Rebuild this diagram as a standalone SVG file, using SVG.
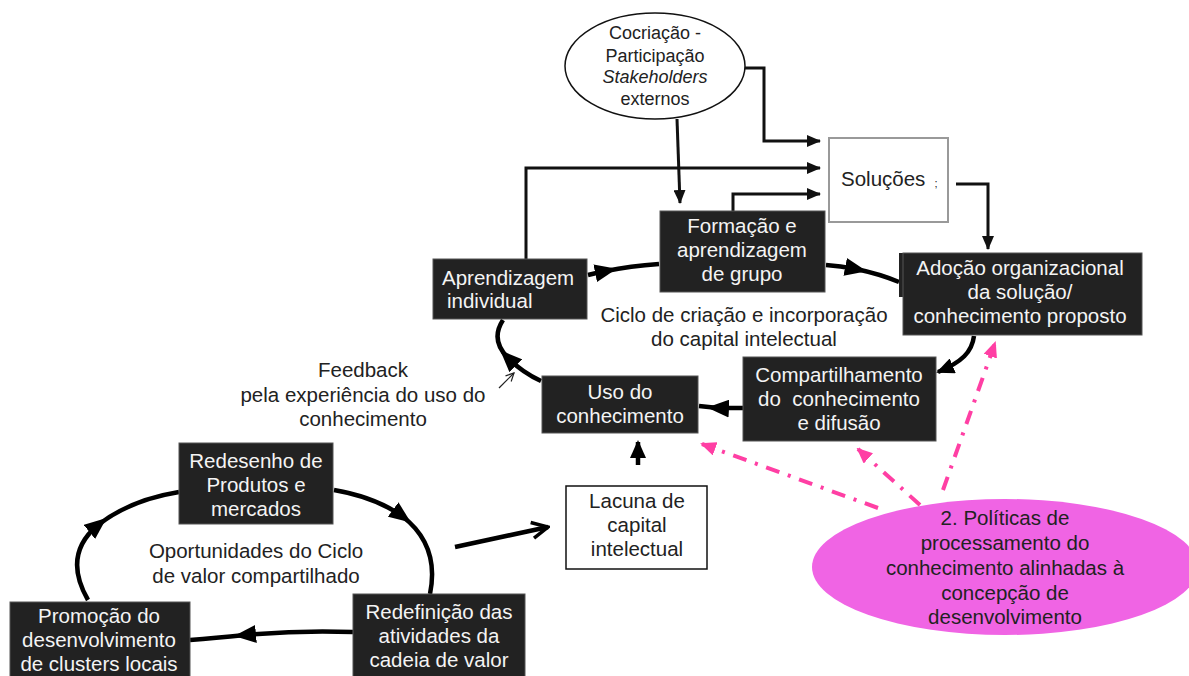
<svg xmlns="http://www.w3.org/2000/svg" width="1189" height="676" viewBox="0 0 1189 676">
  <defs>
    <style>
      .txt { font-family: "Liberation Sans", Arial, sans-serif; font-size: 20.5px; fill: #222; text-anchor: middle; white-space: pre; }
      .wt { fill: #f4f4f4; }
      .sm { font-size: 18px; }
      .box { fill: #222; stroke: #555; stroke-width: 1; }
      .thin { fill: none; stroke: #111; stroke-width: 3; }
      .thick { fill: none; stroke: #000; stroke-width: 4.5; }
      .pink { fill: none; stroke: #ff3fa4; stroke-width: 4; stroke-dasharray: 14 9 3 9; }
    </style>
    <marker id="arrEnd" markerUnits="userSpaceOnUse" viewBox="0 0 14 12" refX="13" refY="6" markerWidth="14" markerHeight="12" orient="auto">
      <path d="M0,0 L14,6 L0,12 z" fill="#111"/>
    </marker>
    <marker id="arrMid" markerUnits="userSpaceOnUse" viewBox="0 0 22 18" refX="11" refY="9" markerWidth="22" markerHeight="18" orient="auto">
      <path d="M0,0 L22,9 L0,18 z" fill="#000"/>
    </marker>
    <marker id="arrBig" markerUnits="userSpaceOnUse" viewBox="0 0 18 16" refX="16" refY="8" markerWidth="18" markerHeight="16" orient="auto">
      <path d="M0,0 L18,8 L0,16 z" fill="#000"/>
    </marker>
    <marker id="arrOpen" markerUnits="userSpaceOnUse" viewBox="0 0 20 20" refX="18" refY="10" markerWidth="20" markerHeight="20" orient="auto">
      <path d="M2,2 L18,10 L2,18" fill="none" stroke="#000" stroke-width="3.5"/>
    </marker>
    <marker id="arrThin" markerUnits="userSpaceOnUse" viewBox="0 0 10 10" refX="9" refY="5" markerWidth="10" markerHeight="10" orient="auto">
      <path d="M1,1 L9,5 L1,9" fill="none" stroke="#222" stroke-width="1.2"/>
    </marker>
    <marker id="arrPink" markerUnits="userSpaceOnUse" viewBox="0 0 16 14" refX="14" refY="7" markerWidth="16" markerHeight="14" orient="auto">
      <path d="M0,0 L16,7 L0,14 z" fill="#ff3fa4"/>
    </marker>
  </defs>

  <rect width="1189" height="676" fill="#fff"/>

  <!-- connectors -->
  <g id="connectors">
    <!-- into Soluções -->
    <path class="thin" d="M745 68 H764 V141 H820" marker-end="url(#arrEnd)"/>
    <path class="thin" d="M526 259 V168 H820" marker-end="url(#arrEnd)"/>
    <path class="thin" d="M733 211 V194 H820" marker-end="url(#arrEnd)"/>
    <path class="thin" d="M677 119 L680 203" marker-end="url(#arrEnd)"/>
    <path class="thin" d="M956 184 H988 V249" marker-end="url(#arrEnd)"/>

    <!-- creation and incorporation cycle -->
    <path class="thick" d="M588 275 Q596 273 606 271 Q630 266 659 264" marker-mid="url(#arrMid)"/>
    <path class="thick" d="M826 265 Q840 266 856 269 Q880 274 899 282" marker-mid="url(#arrMid)"/>
    <path class="thick" d="M974 336 C972 352 962 362 938 372" marker-end="url(#arrBig)"/>
    <path class="thick" d="M743 408 L718 408 L699 406" marker-mid="url(#arrMid)"/>
    <path class="thick" d="M541 381 Q522 372 508 358 Q490 340 503 320" marker-mid="url(#arrMid)"/>
    <path d="M499 388 L514 373" fill="none" stroke="#222" stroke-width="1.2" marker-end="url(#arrThin)"/>

    <!-- gap to use -->
    <path class="thick" d="M638 465 L638 442" marker-end="url(#arrBig)"/>

    <!-- shared value cycle -->
    <path class="thick" d="M88 600 Q62 555 98 525 Q130 500 179 492" marker-mid="url(#arrMid)"/>
    <path class="thick" d="M334 490 Q375 497 402 516 Q440 545 430 594" marker-mid="url(#arrMid)"/>
    <path class="thick" d="M353 632 Q300 630 245 635 Q215 638 190 640" marker-mid="url(#arrMid)"/>
    <path class="thick" d="M455 547 L548 527" marker-end="url(#arrOpen)"/>

    <!-- policy influence -->
    <path class="pink" d="M878 508 L702 444" marker-end="url(#arrPink)"/>
    <path class="pink" d="M920 505 L858 449" marker-end="url(#arrPink)"/>
    <path class="pink" d="M943 490 L995 343" marker-end="url(#arrPink)"/>
  </g>

  <g id="cocriacao">
    <ellipse cx="655" cy="66" rx="90" ry="53" fill="#fff" stroke="#111" stroke-width="1.5"/>
    <text class="txt sm" x="655" y="39">Cocriação -</text>
    <text class="txt sm" x="655" y="62">Participação</text>
    <text class="txt sm" x="655" y="83" font-style="italic">Stakeholders</text>
    <text class="txt sm" x="655" y="105">externos</text>
  </g>

  <g id="solucoes">
    <rect x="829" y="138" width="119" height="84" fill="#fff" stroke="#999" stroke-width="2"/>
    <text class="txt" x="841" y="186" style="text-anchor:start">Soluções</text>
    <text class="txt" x="936" y="187" style="font-size:11px">;</text>
  </g>

  <g id="formacao">
    <rect class="box" x="660" y="211" width="165" height="81"/>
    <text class="txt wt" x="742" y="233">Formação e</text>
    <text class="txt wt" x="742" y="257">aprendizagem</text>
    <text class="txt wt" x="742" y="281">de grupo</text>
  </g>

  <g id="aprendizagem">
    <rect class="box" x="433" y="259" width="154" height="60"/>
    <text class="txt wt" x="442" y="285" style="text-anchor:start">Aprendizagem</text>
    <text class="txt wt" x="447" y="308" style="text-anchor:start">individual</text>
  </g>

  <g id="adocao">
    <rect x="899" y="253" width="243" height="44" fill="#222"/>
    <rect class="box" x="903" y="253" width="239" height="82"/>
    <text class="txt wt" x="1020" y="275">Adoção organizacional</text>
    <text class="txt wt" x="1020" y="299">da solução/</text>
    <text class="txt wt" x="1020" y="323">conhecimento proposto</text>
  </g>

  <g id="ciclo-label">
    <text class="txt" x="744" y="322">Ciclo de criação e incorporação</text>
    <text class="txt" x="744" y="346">do capital intelectual</text>
  </g>

  <g id="compartilhamento">
    <rect class="box" x="743" y="357" width="193" height="84"/>
    <text class="txt wt" x="839" y="382">Compartilhamento</text>
    <text class="txt wt" x="839" y="406">do  conhecimento</text>
    <text class="txt wt" x="839" y="430">e difusão</text>
  </g>

  <g id="uso">
    <rect class="box" x="542" y="376" width="156" height="57"/>
    <text class="txt wt" x="620" y="399">Uso do</text>
    <text class="txt wt" x="620" y="423">conhecimento</text>
  </g>

  <g id="feedback">
    <text class="txt" x="363" y="377">Feedback</text>
    <text class="txt" x="363" y="402">pela experiência do uso do</text>
    <text class="txt" x="363" y="426">conhecimento</text>
  </g>

  <g id="lacuna">
    <rect x="566" y="486" width="141" height="83" fill="#fff" stroke="#111" stroke-width="1.5"/>
    <text class="txt" x="637" y="508">Lacuna de</text>
    <text class="txt" x="637" y="532">capital</text>
    <text class="txt" x="637" y="556">intelectual</text>
  </g>

  <g id="redesenho">
    <rect class="box" x="179" y="443" width="154" height="81"/>
    <text class="txt wt" x="256" y="468">Redesenho de</text>
    <text class="txt wt" x="256" y="492">Produtos e</text>
    <text class="txt wt" x="256" y="516">mercados</text>
  </g>

  <g id="oportunidades-label">
    <text class="txt" x="256" y="558">Oportunidades do Ciclo</text>
    <text class="txt" x="256" y="583">de valor compartilhado</text>
  </g>

  <g id="promocao">
    <rect class="box" x="10" y="602" width="180" height="80"/>
    <text class="txt wt" x="99" y="623">Promoção do</text>
    <text class="txt wt" x="99" y="647">desenvolvimento</text>
    <text class="txt wt" x="99" y="671">de clusters locais</text>
  </g>

  <g id="redefinicao">
    <rect class="box" x="353" y="594" width="172" height="88"/>
    <text class="txt wt" x="439" y="619">Redefinição das</text>
    <text class="txt wt" x="439" y="643">atividades da</text>
    <text class="txt wt" x="439" y="667">cadeia de valor</text>
  </g>

  <g id="politicas">
    <ellipse cx="1005" cy="567" rx="193" ry="68" fill="#f064e4"/>
    <text class="txt" x="1005" y="525">2. Políticas de</text>
    <text class="txt" x="1005" y="550">processamento do</text>
    <text class="txt" x="1005" y="575">conhecimento alinhadas à</text>
    <text class="txt" x="1005" y="600">concepção de</text>
    <text class="txt" x="1005" y="624">desenvolvimento</text>
  </g>
</svg>
